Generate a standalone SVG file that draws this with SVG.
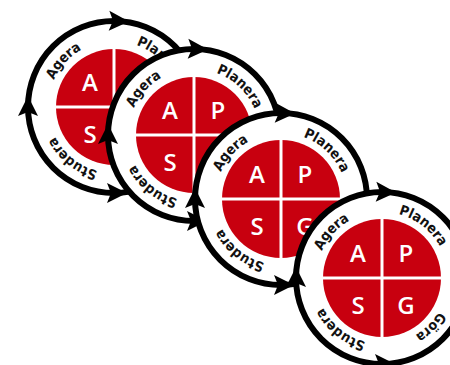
<svg xmlns="http://www.w3.org/2000/svg" width="450" height="365" viewBox="0 0 450 365">
<style>
.ring{fill:#fff;stroke:#000;stroke-width:6}
.red{fill:#c8000f}
.cross{stroke:#fff;stroke-width:3}
.q{font-family:"Open Sans","Liberation Sans",sans-serif;font-weight:600;font-size:24px;fill:#fff;text-anchor:middle}
.lbl{font-family:"DejaVu Sans Condensed","Open Sans","Liberation Sans",sans-serif;font-weight:700;font-size:14px;fill:#111;text-anchor:middle}
.ah{fill:#000}
</style>
<defs>
<path id="tp" d="M -66,0 A 66,66 0 1 1 66,0 A 66,66 0 1 1 -66,0" fill="none"/>
<path id="ah" d="M 11,0 L -9,-10 L -5,0 L -9,10 Z"/>
</defs>

<g id="cycle1" transform="translate(114,107)">
<circle class="ring" r="86"/>
<use href="#ah" class="ah" transform="translate(4,-86) rotate(2)"/>
<use href="#ah" class="ah" transform="translate(-86,0) rotate(-90)"/>
<use href="#ah" class="ah" transform="translate(2,86) rotate(0)"/>
<circle class="red" r="58"/>
<line class="cross" x1="-58" y1="0" x2="58" y2="0"/>
<line class="cross" x1="0" y1="-58" x2="0" y2="58"/>
<text class="q" x="-24" y="-16">A</text>
<text class="q" x="-24" y="36">S</text>
<text class="lbl"><textPath href="#tp" startOffset="11.8%">Agera</textPath></text>
<text class="lbl"><textPath href="#tp" startOffset="37%">Planera</textPath></text>
<text class="lbl"><textPath href="#tp" startOffset="85.8%">Studera</textPath></text>
</g>

<g id="cycle2" transform="translate(194,135)">
<circle class="ring" r="86"/>
<use href="#ah" class="ah" transform="translate(3,-86) rotate(2)"/>
<use href="#ah" class="ah" transform="translate(-86,0) rotate(-90)"/>
<use href="#ah" class="ah" transform="translate(2,86) rotate(0)"/>
<circle class="red" r="58"/>
<line class="cross" x1="-58" y1="0" x2="58" y2="0"/>
<line class="cross" x1="0" y1="-58" x2="0" y2="58"/>
<text class="q" x="-24" y="-16">A</text>
<text class="q" x="24" y="-16">P</text>
<text class="q" x="-24" y="36">S</text>
<text class="lbl"><textPath href="#tp" startOffset="11.8%">Agera</textPath></text>
<text class="lbl"><textPath href="#tp" startOffset="37%">Planera</textPath></text>
<text class="lbl"><textPath href="#tp" startOffset="85.8%">Studera</textPath></text>
</g>

<g id="cycle3" transform="translate(281,199)">
<circle class="ring" r="86"/>
<use href="#ah" class="ah" transform="translate(3,-86) rotate(2)"/>
<use href="#ah" class="ah" transform="translate(-86,0) rotate(-90)"/>
<use href="#ah" class="ah" transform="translate(2,86) rotate(0)"/>
<circle class="red" r="59"/>
<line class="cross" x1="-59" y1="0" x2="59" y2="0"/>
<line class="cross" x1="0" y1="-59" x2="0" y2="59"/>
<text class="q" x="-24" y="-16">A</text>
<text class="q" x="24" y="-16">P</text>
<text class="q" x="-24" y="36">S</text>
<text class="q" x="24" y="36">G</text>
<text class="lbl"><textPath href="#tp" startOffset="11.8%">Agera</textPath></text>
<text class="lbl"><textPath href="#tp" startOffset="37%">Planera</textPath></text>
<text class="lbl"><textPath href="#tp" startOffset="85.8%">Studera</textPath></text>
</g>

<g id="cycle4" transform="translate(382,278)">
<circle class="ring" r="86"/>
<use href="#ah" class="ah" transform="translate(3,-86) rotate(2)"/>
<use href="#ah" class="ah" transform="translate(-86,0) rotate(-90)"/>
<use href="#ah" class="ah" transform="translate(2,86) rotate(0)"/>
<circle class="red" r="59"/>
<line class="cross" x1="-59" y1="0" x2="59" y2="0"/>
<line class="cross" x1="0" y1="-59" x2="0" y2="59"/>
<text class="q" x="-24" y="-16">A</text>
<text class="q" x="24" y="-16">P</text>
<text class="q" x="-24" y="36">S</text>
<text class="q" x="24" y="36">G</text>
<text class="lbl"><textPath href="#tp" startOffset="11.8%">Agera</textPath></text>
<text class="lbl"><textPath href="#tp" startOffset="35.6%">Planera</textPath></text>
<text class="lbl"><textPath href="#tp" startOffset="62.6%">Göra</textPath></text>
<text class="lbl"><textPath href="#tp" startOffset="85.8%">Studera</textPath></text>
</g>
</svg>
